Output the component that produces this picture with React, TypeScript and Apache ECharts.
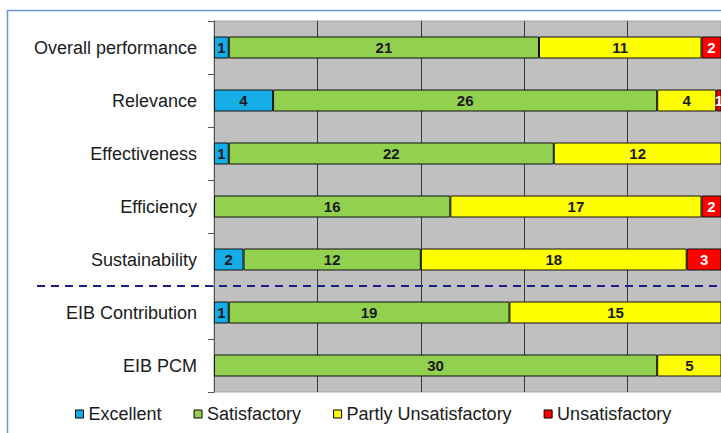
import React, { useEffect, useRef } from "react";
import * as echarts from "echarts";

const categories = [
  "Overall performance",
  "Relevance",
  "Effectiveness",
  "Efficiency",
  "Sustainability",
  "EIB Contribution",
  "EIB PCM",
];
const excellent = [1, 4, 1, 0, 2, 1, 0];
const satisfactory = [21, 26, 22, 16, 12, 19, 30];
const partlyUnsatisfactory = [11, 4, 12, 17, 18, 15, 5];
const unsatisfactory = [2, 1, 0, 2, 3, 0, 0];

const seriesDefs = [
  { name: "Excellent", data: excellent, color: "#14ade6", labelColor: "#1a1a1a" },
  { name: "Satisfactory", data: satisfactory, color: "#92d050", labelColor: "#1a1a1a" },
  { name: "Partly Unsatisfactory", data: partlyUnsatisfactory, color: "#ffff00", labelColor: "#1a1a1a" },
  { name: "Unsatisfactory", data: unsatisfactory, color: "#ff0000", labelColor: "#ffffff" },
];

// visible part of the value axis (the original chart is cut at the right edge)
const axisMax = 34.32;

export default function App() {
  const ref = useRef<HTMLDivElement>(null);
  useEffect(() => {
    if (!ref.current) return;
    const chart = echarts.init(ref.current, null, { renderer: "svg" });
    const font = "Arial, 'Liberation Sans', sans-serif";
    chart.setOption({
      animation: false,
      backgroundColor: "#ffffff",
      textStyle: { fontFamily: font },
      grid: {
        left: 214,
        top: 21,
        right: 0,
        bottom: 41,
        show: true,
        backgroundColor: "#c0c0c0",
        borderColor: "#a8a8a8",
        borderWidth: 1,
      },
      legend: {
        left: 70,
        top: 400,
        itemWidth: 8,
        itemHeight: 8,
        itemGap: 32,
        icon: "rect",
        textStyle: { fontSize: 18, color: "#1a1a1a", fontFamily: font },
        itemStyle: { borderColor: "#000", borderWidth: 1 },
        data: seriesDefs.map((s) => s.name),
      },
      xAxis: {
        type: "value",
        min: 0,
        max: axisMax,
        interval: 7,
        axisLabel: { show: false },
        axisLine: { show: false },
        axisTick: { show: false },
        splitLine: { show: true, lineStyle: { color: "#3a3a3a", width: 1 } },
      },
      yAxis: {
        type: "category",
        inverse: true,
        data: categories,
        axisLine: { show: true, lineStyle: { color: "#555", width: 1 } },
        axisTick: { show: true, length: 6, lineStyle: { color: "#555" } },
        axisLabel: { fontSize: 18, color: "#1a1a1a", margin: 17, fontFamily: font },
      },
      series: seriesDefs.map((s) => ({
        name: s.name,
        type: "bar",
        stack: "total",
        barWidth: 22,
        data: s.data.map((v) => (v ? v : null)),
        itemStyle: { color: s.color, borderColor: "#111", borderWidth: 1 },
        label: {
          show: true,
          position: "inside",
          color: s.labelColor,
          fontWeight: "bold",
          fontSize: 15,
          fontFamily: font,
        },
      })),
    });
    const y1 = chart.convertToPixel({ yAxisIndex: 0 }, categories[4]) as number;
    const y2 = chart.convertToPixel({ yAxisIndex: 0 }, categories[5]) as number;
    const yMid = (y1 + y2) / 2;
    chart.setOption({
      graphic: [
        {
          type: "rect",
          shape: { x: 7.5, y: 10.5, width: 800, height: 500 },
          style: { fill: "none", stroke: "#6a97d4", lineWidth: 1.5 },
          z: 100,
        },
        {
          type: "line",
          shape: { x1: 37, y1: yMid, x2: 740, y2: yMid },
          style: { stroke: "#1c1c8a", lineWidth: 2, lineDash: [8, 6] },
          z: 100,
        },
      ],
    });
    return () => chart.dispose();
  }, []);
  return (
    <div
      ref={ref}
      style={{ position: "absolute", left: 0, top: 0, width: 721, height: 433 }}
    />
  );
}
